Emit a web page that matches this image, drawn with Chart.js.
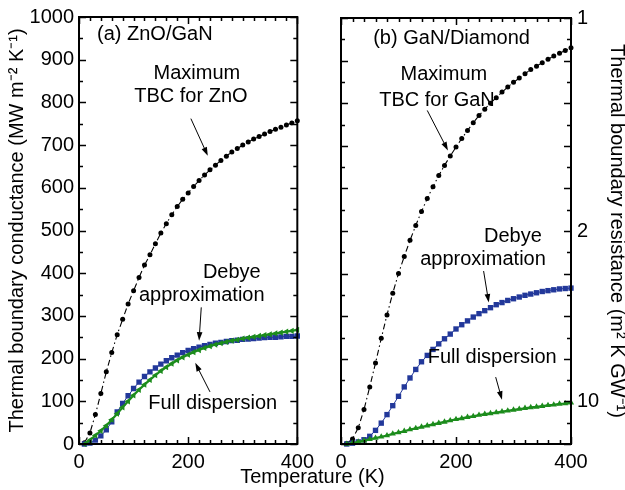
<!DOCTYPE html>
<html>
<head>
<meta charset="utf-8">
<script src="https://cdn.jsdelivr.net/npm/chart.js@4.4.1/dist/chart.umd.min.js"></script>
<style>
  html, body { margin: 0; padding: 0; background: #fff; }
  #wrap { position: relative; width: 625px; height: 490px; overflow: hidden; }
  #left { position: absolute; left: 0; top: 0; }
  #right { position: absolute; left: 320px; top: 0; }
  #xtitle {
    position: absolute; left: 0; width: 625px; top: 466px; text-align: center;
    font: 20px "Liberation Sans", Arial, sans-serif; line-height: 1; color: #000;
  }
</style>
</head>
<body>
<div id="wrap">
  <canvas id="left" width="320" height="490"></canvas>
  <canvas id="right" width="305" height="490"></canvas>
  <div id="xtitle">Temperature (K)</div>
</div>
<script>
// temperature grid (K)
const temps = [10, 20, 30, 40, 50, 60, 70, 80, 90, 100,
  110, 120, 130, 140, 150, 160, 170, 180, 190, 200,
  210, 220, 230, 240, 250, 260, 270, 280, 290, 300,
  310, 320, 330, 340, 350, 360, 370, 380, 390, 400];

// (a) ZnO/GaN, TBC in MW m^-2 K^-1
const znoMax = [3, 26, 69, 118, 169, 214, 256, 292, 328, 359,
  390, 419, 443, 469, 494, 516, 537, 556, 573, 588,
  603, 617, 630, 642, 653, 664, 674, 684, 692, 700,
  707, 714, 720, 726, 732, 737, 742, 747, 752, 757];
const znoDebye = [0, 2, 9, 19, 33, 52, 75, 95, 113, 130,
  145, 158, 169, 178, 187, 195, 202, 208, 214, 219,
  223, 227, 230, 233, 236, 238, 240, 242, 243, 245,
  246, 247, 248, 249, 250, 250, 251, 252, 252, 253];
const znoFull = [0, 9, 20, 31, 43, 57, 71, 86, 100, 114,
  127, 139, 150, 161, 171, 180, 188, 196, 203, 209,
  215, 220, 225, 229, 233, 236, 239, 242, 244, 247,
  249, 251, 253, 255, 257, 259, 261, 263, 265, 267];

// (b) GaN/Diamond
const ganMax = [1, 12, 38, 81, 134, 190, 248, 303, 354, 400,
  440, 478, 513, 546, 576, 604, 630, 654, 676, 697,
  717, 736, 754, 771, 786, 800, 813, 826, 838, 849,
  859, 869, 879, 887, 895, 903, 911, 917, 924, 930];
const ganDebye = [0, 2, 5, 10, 18, 32, 49, 69, 90, 112,
  134, 155, 175, 193, 208, 222, 235, 247, 258, 270,
  280, 289, 298, 306, 313, 320, 327, 332, 337, 341,
  345, 349, 352, 355, 358, 360, 362, 364, 365, 366];
const ganFull = [0, 2, 5, 8, 11, 14, 17, 20, 24, 27,
  30, 34, 37, 40, 43, 46, 49, 52, 55, 58,
  60, 63, 65, 68, 70, 72, 74, 76, 78, 80,
  82, 84, 86, 87, 89, 91, 92, 94, 95, 97];

// right-hand axis: thermal boundary resistance (m^2 K GW^-1)
const resistanceTicks = [1, 2, 10];

const FONT = '"Liberation Sans", Arial, Helvetica, sans-serif';
Chart.defaults.font.family = FONT;
Chart.defaults.font.size = 20;
Chart.defaults.color = '#000';

const BLACK = '#000000';
const BLUE = '#22389a';
const GREEN = '#1c8c1c';

function pts(values) {
  return temps.map((t, i) => ({ x: t, y: values[i] }));
}

function series(maxVals, debyeVals, fullVals, fullRotation) {
  // full dispersion first so it sits on top
  return [
    {
      data: pts(fullVals), borderColor: GREEN, backgroundColor: GREEN,
      borderWidth: 2.2, pointStyle: 'triangle', pointRotation: fullRotation,
      pointRadius: 3.6, pointBorderWidth: 0, clip: 6
    },
    {
      data: pts(debyeVals), borderColor: BLUE, backgroundColor: BLUE,
      borderWidth: 1, pointStyle: 'rect', pointRadius: 3.8,
      pointBorderWidth: 0, clip: 6
    },
    {
      data: pts(maxVals), borderColor: BLACK, backgroundColor: BLACK,
      borderWidth: 1.1, borderDash: [6, 3, 1.5, 3], pointStyle: 'circle',
      pointRadius: 2.5, pointBorderWidth: 0, clip: 6
    }
  ];
}

// frame, inward ticks, labels and arrows
function decor(notes) {
  return {
    id: 'decor',
    afterDatasetsDraw(chart) {
      const { ctx, chartArea: a } = chart;
      const xs = chart.scales.x;
      const ys = chart.scales.y;
      ctx.save();
      ctx.strokeStyle = '#000';
      ctx.lineWidth = 2;
      ctx.strokeRect(a.left, a.top, a.right - a.left, a.bottom - a.top);

      ctx.lineWidth = 1.5;
      ctx.beginPath();
      for (let v = 0; v <= 1000; v += 50) {
        const y = Math.round(ys.getPixelForValue(v)) + 0.5;
        const len = v % 100 === 0 ? 7 : 4;
        ctx.moveTo(a.left, y); ctx.lineTo(a.left + len, y);
        ctx.moveTo(a.right, y); ctx.lineTo(a.right - len, y);
      }
      for (let t = 0; t <= 400; t += 20) {
        const x = Math.round(xs.getPixelForValue(t)) + 0.5;
        const len = t % 200 === 0 ? 7 : 4;
        ctx.moveTo(x, a.bottom); ctx.lineTo(x, a.bottom - len);
        ctx.moveTo(x, a.top); ctx.lineTo(x, a.top + len);
      }
      ctx.stroke();

      ctx.fillStyle = '#000';
      ctx.font = '20px ' + FONT;
      ctx.textBaseline = 'middle';
      notes.labels.forEach(l => {
        ctx.textAlign = l.align || 'center';
        ctx.fillText(l.text, xs.getPixelForValue(l.x), ys.getPixelForValue(l.y));
      });

      ctx.lineWidth = 1;
      notes.arrows.forEach(ar => {
        const x0 = xs.getPixelForValue(ar[0]), y0 = ys.getPixelForValue(ar[1]);
        const x1 = xs.getPixelForValue(ar[2]), y1 = ys.getPixelForValue(ar[3]);
        const ang = Math.atan2(y1 - y0, x1 - x0);
        const head = 9, wing = 0.32;
        ctx.beginPath();
        ctx.moveTo(x0, y0);
        ctx.lineTo(x1 - Math.cos(ang) * head * 0.8, y1 - Math.sin(ang) * head * 0.8);
        ctx.stroke();
        ctx.beginPath();
        ctx.moveTo(x1, y1);
        ctx.lineTo(x1 - head * Math.cos(ang - wing), y1 - head * Math.sin(ang - wing));
        ctx.lineTo(x1 - head * Math.cos(ang + wing), y1 - head * Math.sin(ang + wing));
        ctx.closePath();
        ctx.fill();
      });
      ctx.restore();
    }
  };
}

const xAxis = {
  type: 'linear', min: 0, max: 400,
  ticks: { stepSize: 200, padding: 6, maxRotation: 0 },
  grid: { display: false, drawTicks: false },
  border: { display: false },
  afterFit: s => { s.height = 46; }
};

new Chart(document.getElementById('left'), {
  type: 'line',
  data: { datasets: series(znoMax, znoDebye, znoFull, 270) },
  options: {
    responsive: false, animation: false, devicePixelRatio: 1,
    layout: { padding: { left: 0, top: 15, right: 21, bottom: 0 } },
    plugins: { legend: { display: false }, tooltip: { enabled: false } },
    scales: {
      x: xAxis,
      y: {
        type: 'linear', min: 0, max: 1000,
        ticks: { stepSize: 100, padding: 5, callback: v => String(v) },
        grid: { display: false, drawTicks: false },
        border: { display: false },
        title: {
          display: true, text: 'Thermal boundary conductance (MW m⁻² K⁻¹)',
          font: { size: 20, lineHeight: 1 }, padding: { top: 7, bottom: 0 }
        },
        afterFit: s => { s.width = 79; }
      }
    }
  },
  plugins: [decor({
    labels: [
      { text: '(a) ZnO/GaN', x: 33, y: 958, align: 'left' },
      { text: 'Maximum', x: 216, y: 867 },
      { text: 'TBC for ZnO', x: 205, y: 813 },
      { text: 'Debye', x: 280, y: 401 },
      { text: 'approximation', x: 225, y: 347 },
      { text: 'Full dispersion', x: 245, y: 96 }
    ],
    arrows: [
      [205, 762, 236, 675],
      [224, 320, 220, 242],
      [240, 122, 213, 190]
    ]
  })]
});

new Chart(document.getElementById('right'), {
  type: 'line',
  data: { datasets: series(ganMax, ganDebye, ganFull, 0) },
  options: {
    responsive: false, animation: false, devicePixelRatio: 1,
    layout: { padding: { left: 21, top: 15, right: 0, bottom: 0 } },
    plugins: { legend: { display: false }, tooltip: { enabled: false } },
    scales: {
      x: xAxis,
      y: {
        type: 'linear', position: 'right', min: 0, max: 1000,
        afterBuildTicks: s => { s.ticks = resistanceTicks.map(r => ({ value: 1000 / r })); },
        ticks: { padding: 6, callback: v => String(Math.round(1000 / v)) },
        grid: { display: false, drawTicks: false },
        border: { display: false },
        title: {
          display: true, text: 'Thermal boundary resistance (m² K GW⁻¹)',
          font: { size: 20, lineHeight: 1 }, padding: { top: -2, bottom: 0 }
        },
        afterFit: s => { s.width = 54; }
      }
    }
  },
  plugins: [decor({
    labels: [
      { text: '(b) GaN/Diamond', x: 56, y: 953, align: 'left' },
      { text: 'Maximum', x: 179, y: 867 },
      { text: 'TBC for GaN', x: 167, y: 807 },
      { text: 'Debye', x: 299, y: 487 },
      { text: 'approximation', x: 247, y: 434 },
      { text: 'Full dispersion', x: 263, y: 203 }
    ],
    arrows: [
      [150, 783, 186, 689],
      [248, 406, 257, 332],
      [269, 157, 280, 104]
    ]
  })]
});
</script>
</body>
</html>
